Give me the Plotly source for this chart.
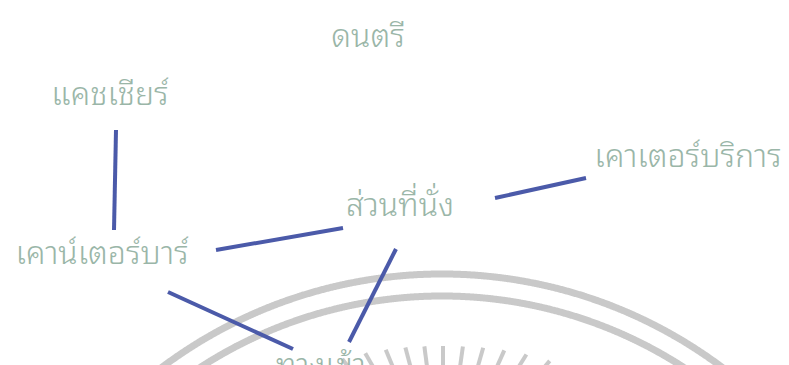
import numpy as np
import plotly.graph_objects as go

W, H = 789, 365

# Node labels (Thai) and their positions on the diagram (pixel space)
labels = ["ดนตรี", "แคชเชียร์", "เคาเตอร์บริการ", "ส่วนที่นั่ง", "เคาน์เตอร์บาร์", "ทางเข้า"]
label_x = [360, 102, 680, 392, 94, 313]
label_y = [31, 89, 151, 200, 248, 360]

# Connecting strokes (start / end points)
edge_x0 = [108, 208, 487, 388, 160]
edge_y0 = [122, 242, 190, 241, 284]
edge_x1 = [106, 335, 578, 341, 285]
edge_y1 = [222, 220, 170, 334, 341]

# Watermark geometry
arc_cx, arc_cy = 434, 733
arc_radii = [467, 445]
ray_center = (435, 480)
ray_angles = [-38, -30, -22.5, -15, -7.5, 0, 8, 16, 24, 32, 40, 48]

LINE_COLOR = "#4b5aa9"
TEXT_COLOR = "#9ab6a8"
WM_COLOR = "#c9c9c9"

fig = go.Figure()

# watermark arcs
for r in arc_radii:
    t = np.linspace(np.pi * 1.05, np.pi * 1.95, 800)
    fig.add_trace(go.Scatter(x=arc_cx + r * np.cos(t), y=arc_cy + r * np.sin(t),
                             mode="lines", line=dict(color=WM_COLOR, width=7, shape="spline"),
                             hoverinfo="skip", showlegend=False))

# watermark rays (pointing toward the emblem centre)
cx, cy = ray_center
for a in ray_angles:
    th = np.deg2rad(a)
    r1 = 142 + 0.015 * a * a
    r2 = 60
    fig.add_trace(go.Scatter(x=[cx + r1 * np.sin(th), cx + r2 * np.sin(th)],
                             y=[cy - r1 * np.cos(th), cy - r2 * np.cos(th)],
                             mode="lines", line=dict(color=WM_COLOR, width=4),
                             hoverinfo="skip", showlegend=False))

# edges
for x0, y0, x1, y1 in zip(edge_x0, edge_y0, edge_x1, edge_y1):
    fig.add_trace(go.Scatter(x=[x0, x1], y=[y0, y1], mode="lines",
                             line=dict(color=LINE_COLOR, width=4),
                             hoverinfo="skip", showlegend=False))

# labels
fig.add_trace(go.Scatter(x=label_x, y=label_y, mode="text", text=labels,
                         textposition="middle center", cliponaxis=False,
                         textfont=dict(size=32, color=TEXT_COLOR, weight=300,
                                       family="Noto Sans Thai Looped, Loma, sans-serif"),
                         hoverinfo="skip", showlegend=False))

fig.update_layout(
    width=W, height=H,
    margin=dict(l=0, r=0, t=0, b=0),
    paper_bgcolor="white", plot_bgcolor="white",
    xaxis=dict(range=[0, W], visible=False, fixedrange=True),
    yaxis=dict(range=[H, 0], visible=False, fixedrange=True),
)

fig.write_html("out.html")
